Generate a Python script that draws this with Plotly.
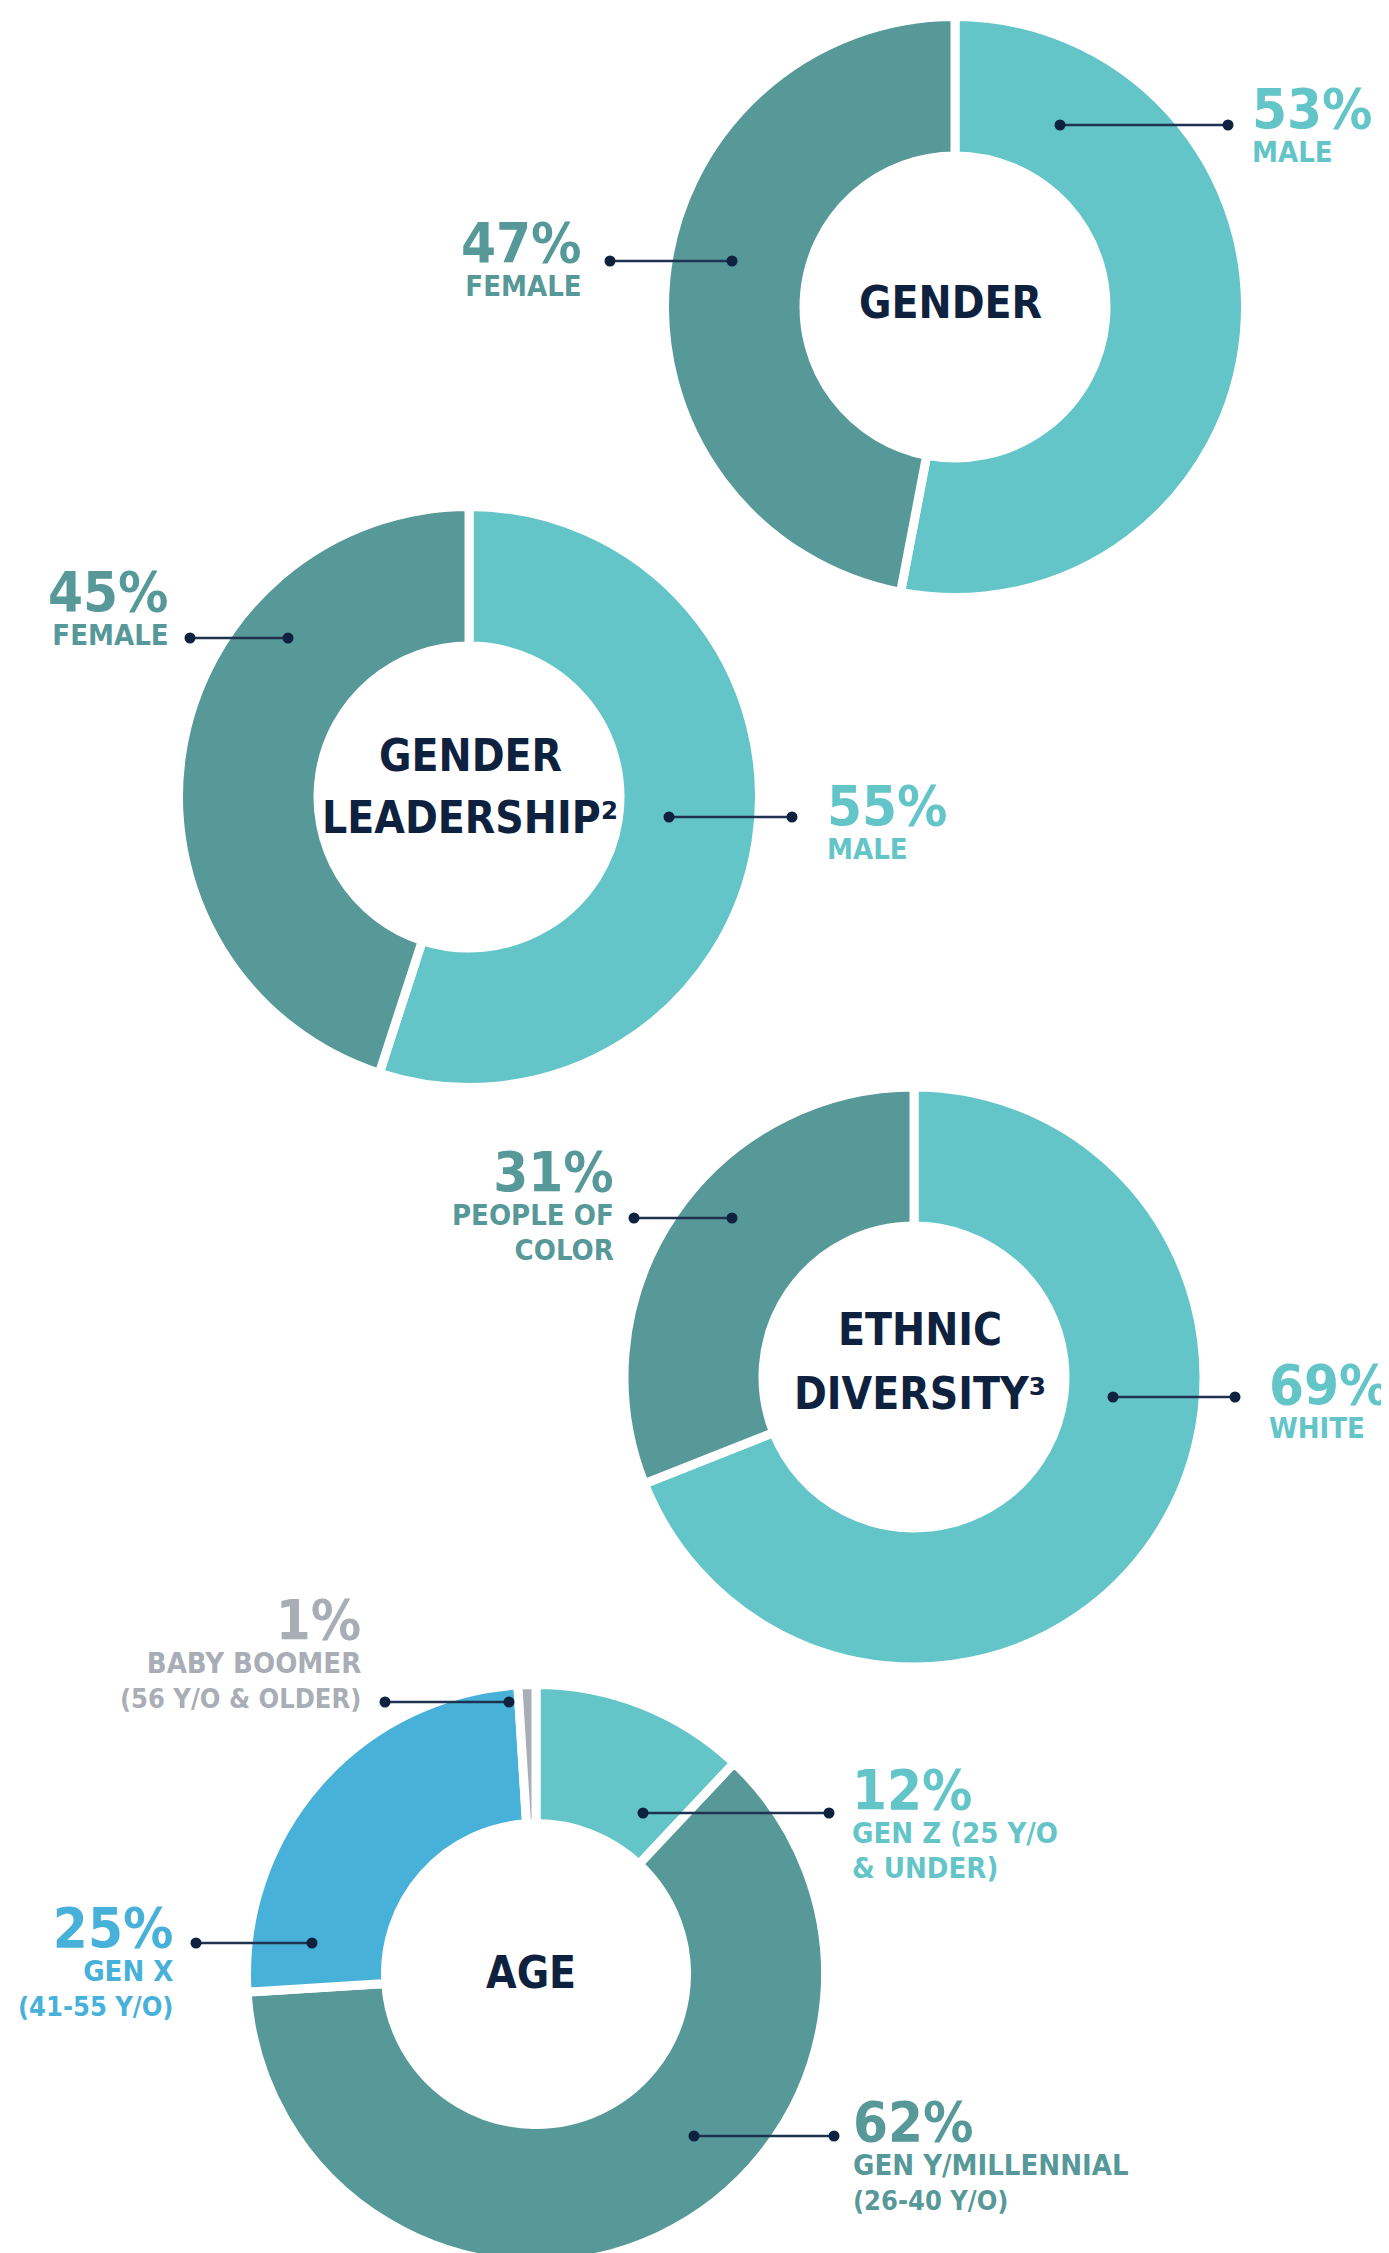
import plotly.graph_objects as go

# page geometry (the page body has an 8px margin)
PAGE_W, PAGE_H = 1389, 2253
OFF = 8
FIG_W = PAGE_W - OFF
FIG_H = 2270

# ---------------- data ----------------
gender_labels = ["MALE", "FEMALE"]
gender_values = [53, 47]

leadership_labels = ["MALE", "FEMALE"]
leadership_values = [55, 45]

ethnic_labels = ["WHITE", "PEOPLE OF COLOR"]
ethnic_values = [69, 31]

age_labels = ["GEN Z", "GEN Y/MILLENNIAL", "GEN X", "BABY BOOMER"]
age_values = [12, 62, 25, 1]

# label text lines shown under each percentage
gender_sub = [["MALE"], ["FEMALE"]]
leadership_sub = [["MALE"], ["FEMALE"]]
ethnic_sub = [["WHITE"], ["PEOPLE OF", "COLOR"]]
age_sub = [["GEN Z (25 Y/O", "&amp; UNDER)"], ["GEN Y/MILLENNIAL", "(26-40 Y/O)"],
           ["GEN X", "(41-55 Y/O)"], ["BABY BOOMER", "(56 Y/O &amp; OLDER)"]]

chart_titles = [["GENDER"], ["GENDER", "LEADERSHIP²"], ["ETHNIC", "DIVERSITY³"], ["AGE"]]

# ---------------- styles ----------------
LIGHT = "#64C5C9"
DARK = "#579899"
BLUE = "#48B1D9"
GRAY = "#A9ADB5"
NAVY = "#0E2240"
LEADER = "#1F3350"
FONT = "DejaVu Sans Condensed, DejaVu Sans, sans-serif"
ASCENT = 0.928
GAP = 9
PCT_SIZE = 56
SUB_SIZE = 29
PAREN_SIZE = 27     # parenthetical age ranges (narrower in the reference)
BASE_SIZE = 26.5    # sets line spacing (1.3 em) of label blocks
TITLE_SIZE = 44

# ---------------- layout positions (page pixels, y from top) ----------------
# chart: (cx, cy, visible outer radius, visible inner radius, title line ys)
charts = [
    (955, 307, 286, 155.5, [302]),
    (469, 797, 286, 155.5, [755, 817]),
    (914, 1377, 285.5, 155.5, [1329, 1393]),
    (536, 1974, 285, 155, [1972]),
]
title_x = [950, 470, 920, 531]

# per slice: (side, text_x, pct baseline y, leader(x0, x1, y))
slice_pos = [
    [("left", 1250, 127, (1060, 1228, 125)),
     ("right", 584, 261, (610, 732, 261))],
    [("left", 825, 824, (669, 792, 817)),
     ("right", 171, 610, (190, 288, 638))],
    [("left", 1267, 1403, (1113, 1235, 1397)),
     ("right", 616, 1190, (634, 732, 1218))],
    [("left", 850, 1808, (643, 829, 1813)),
     ("left", 851, 2140, (694, 834, 2136)),
     ("right", 175, 1946, (196, 312, 1943)),
     ("right", 363, 1638, (385, 509, 1702))],
]

values_all = [gender_values, leadership_values, ethnic_values, age_values]
labels_all = [gender_labels, leadership_labels, ethnic_labels, age_labels]
subs_all = [gender_sub, leadership_sub, ethnic_sub, age_sub]
colors_all = [[LIGHT, DARK], [LIGHT, DARK], [LIGHT, DARK], [LIGHT, DARK, BLUE, GRAY]]

fig = go.Figure()

# empty trace that establishes the pixel-space axes used by annotations/shapes
fig.add_trace(go.Scatter(x=[], y=[], xaxis="x", yaxis="y", showlegend=False, hoverinfo="skip"))

for (cx, cy, ro, ri, _), vals, labs, cols in zip(charts, values_all, labels_all, colors_all):
    r = ro + GAP / 2
    fig.add_trace(go.Pie(
        values=vals, labels=labs, sort=False, direction="clockwise", rotation=0,
        hole=(ri - GAP / 2) / r,
        marker=dict(colors=cols, line=dict(color="white", width=GAP)),
        textinfo="none", hoverinfo="label+percent", showlegend=False,
        domain=dict(x=[(cx - r - OFF) / FIG_W, (cx + r - OFF) / FIG_W],
                    y=[1 - (cy + r - OFF) / FIG_H, 1 - (cy - r - OFF) / FIG_H]),
    ))

annotations = []
shapes = []

for ci, (vals, subs, cols, poss) in enumerate(zip(values_all, subs_all, colors_all, slice_pos)):
    # centre title
    for line, ty in zip(chart_titles[ci], charts[ci][4]):
        annotations.append(dict(x=title_x[ci], y=ty, xref="x", yref="y", text=line,
                                showarrow=False, xanchor="center", yanchor="middle",
                                font=dict(family=FONT, size=TITLE_SIZE, color=NAVY, weight=700)))
    for v, sub, col, (side, tx, base, (lx0, lx1, ly)) in zip(vals, subs, cols, poss):
        lines = [f'<span style="font-size:{PCT_SIZE}px">{v}%</span>']
        for s in sub:
            size = PAREN_SIZE if s.startswith("(") else SUB_SIZE
            lines.append(f'<span style="font-size:{size}px">{s}</span>')
        annotations.append(dict(x=tx, y=base - ASCENT * PCT_SIZE - 1, xref="x", yref="y",
                                text="<br>".join(lines), align=side,
                                showarrow=False, xanchor=side, yanchor="top",
                                font=dict(family=FONT, size=BASE_SIZE, color=col, weight=700)))
        shapes.append(dict(type="line", xref="x", yref="y", x0=lx0, x1=lx1, y0=ly, y1=ly,
                           line=dict(color=LEADER, width=2.5), layer="above"))
        for dx in (lx0, lx1):
            shapes.append(dict(type="circle", xref="x", yref="y", xsizemode="pixel", ysizemode="pixel",
                               xanchor=dx, yanchor=ly, x0=-5.5, x1=5.5, y0=-5.5, y1=5.5,
                               fillcolor=NAVY, line=dict(width=0), layer="above"))

fig.update_layout(
    width=FIG_W, height=FIG_H, margin=dict(l=0, r=0, t=0, b=0),
    paper_bgcolor="white", plot_bgcolor="rgba(0,0,0,0)",
    xaxis=dict(range=[OFF, OFF + FIG_W], visible=False, domain=[0, 1], fixedrange=True),
    yaxis=dict(range=[OFF + FIG_H, OFF], visible=False, domain=[0, 1], fixedrange=True),
    annotations=annotations, shapes=shapes,
)

fig.write_html("out.html")
